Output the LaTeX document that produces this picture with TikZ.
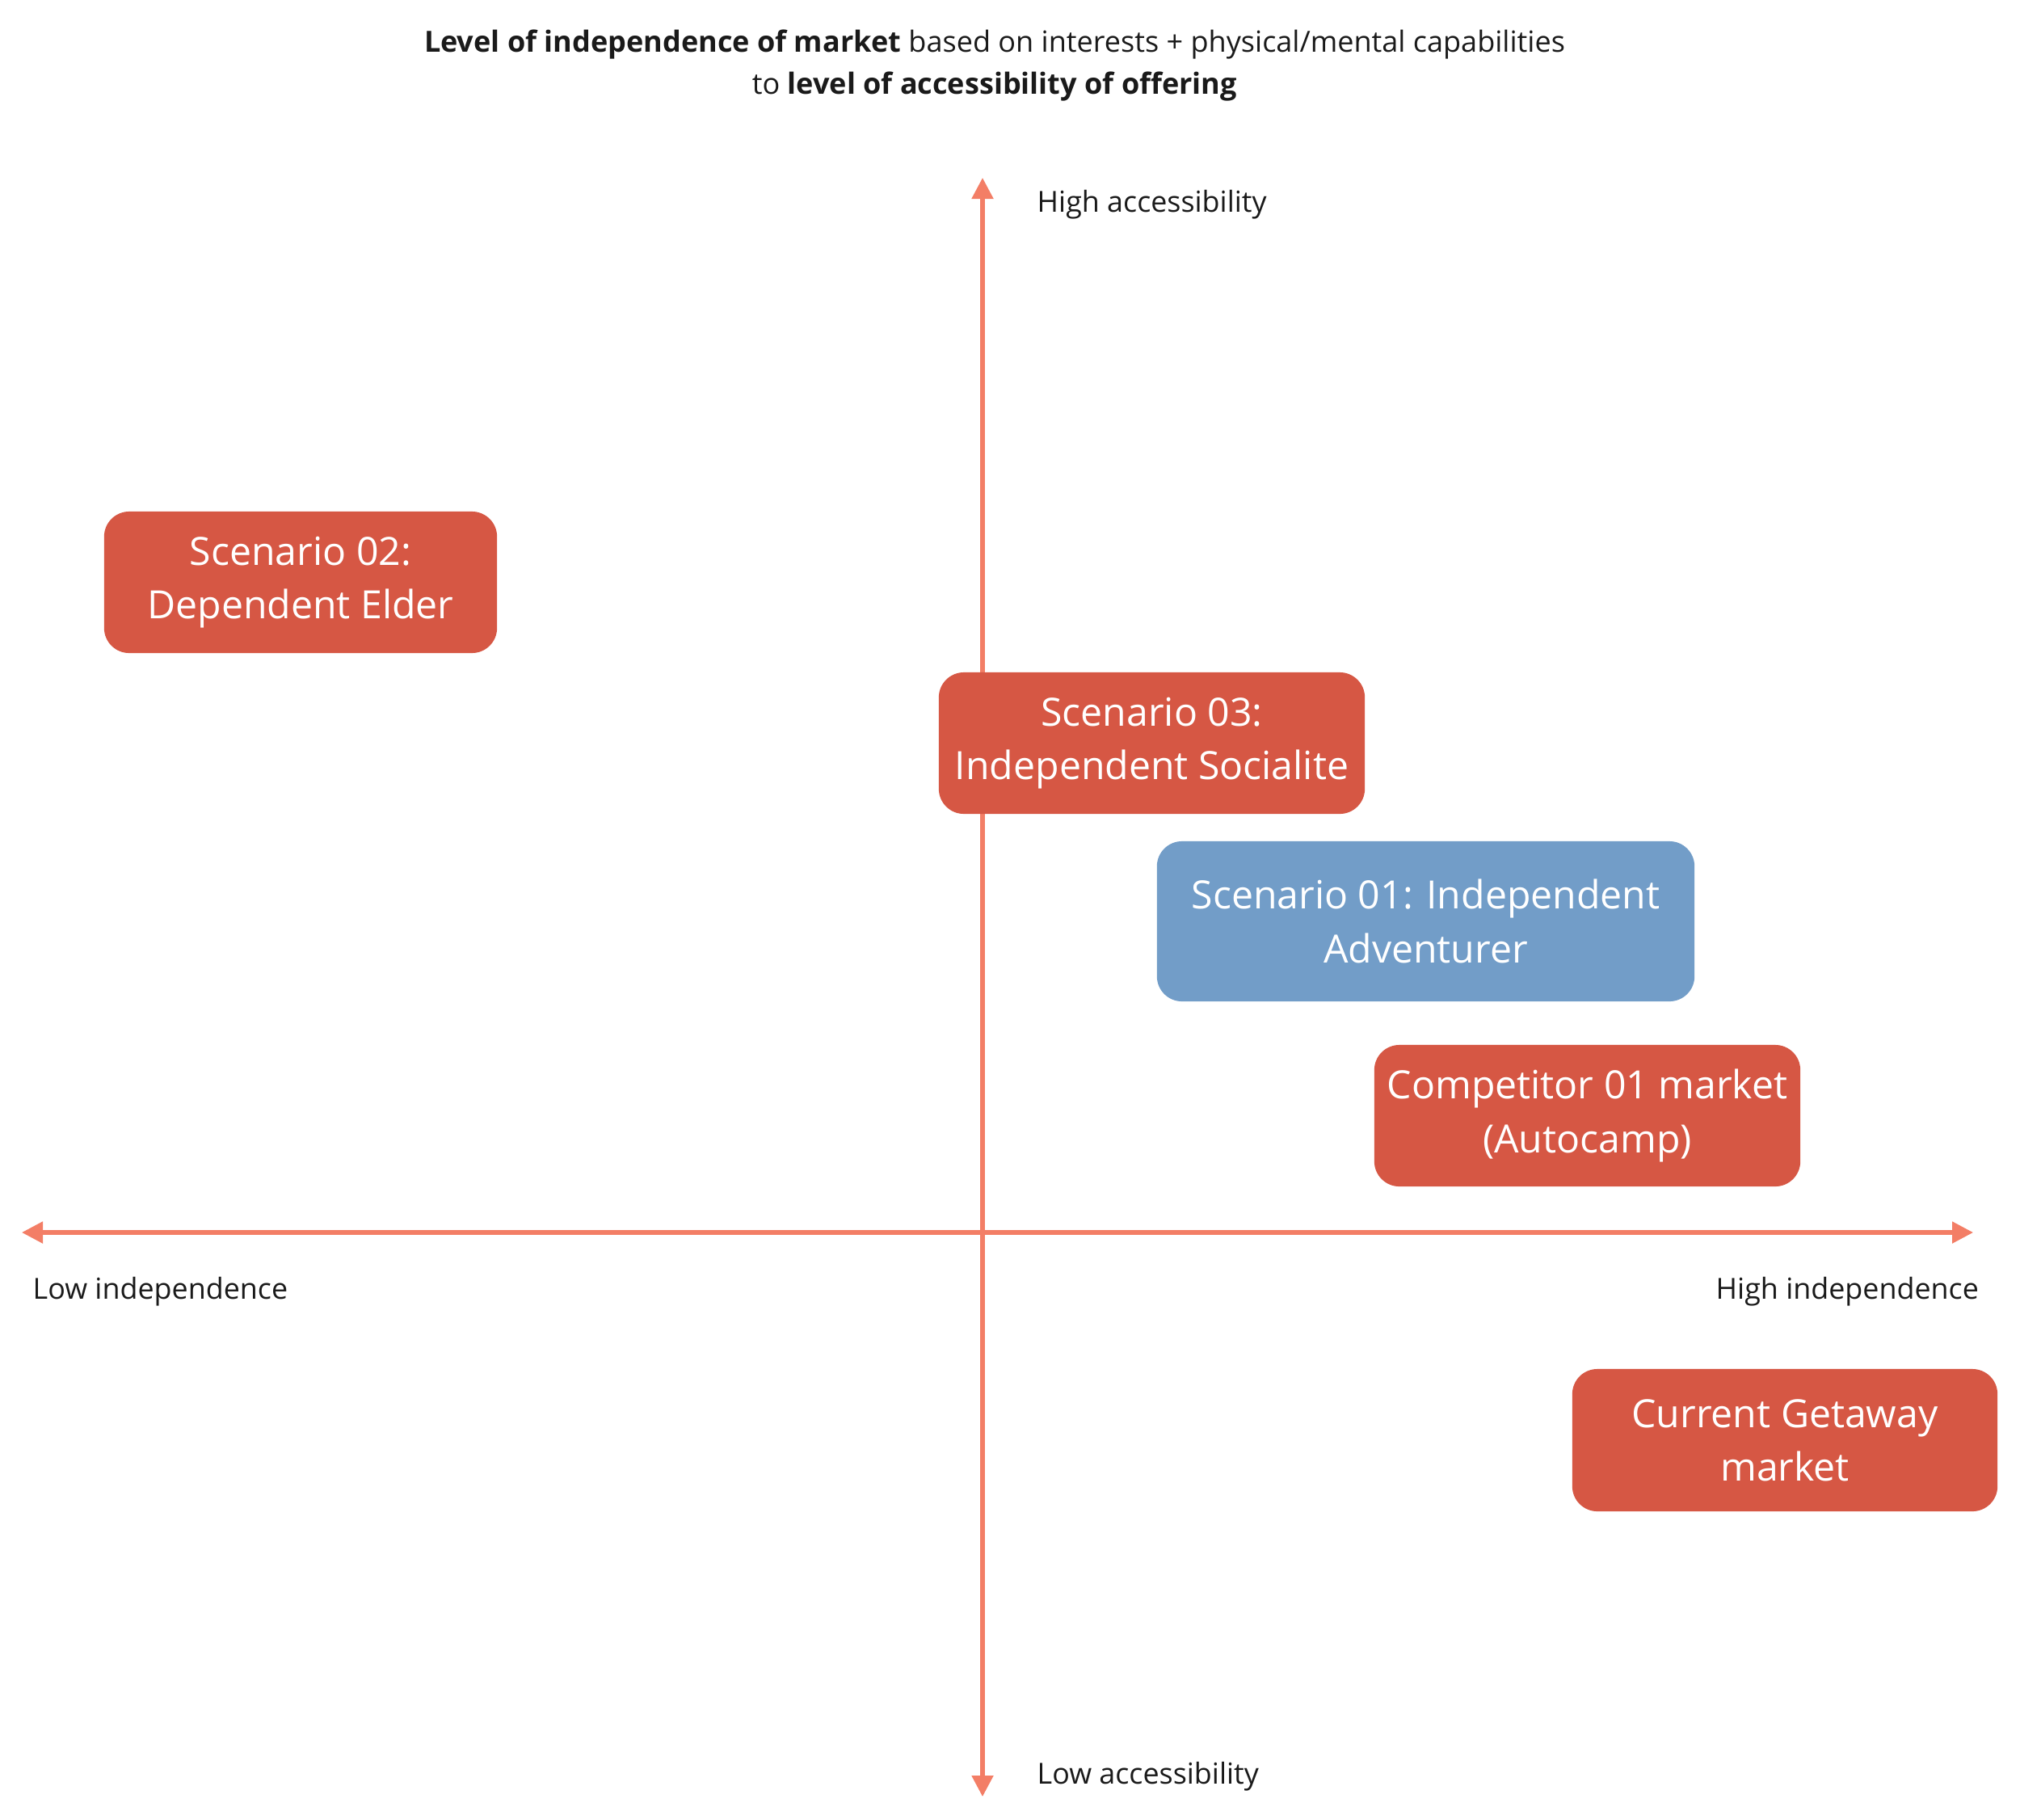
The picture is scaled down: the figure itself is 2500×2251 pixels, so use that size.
\documentclass[tikz,border=0pt]{standalone}
\usepackage{fontspec}
\setmainfont{Open Sans}
\usetikzlibrary{arrows.meta}
\definecolor{axiscol}{RGB}{243,126,102}
\definecolor{boxred}{RGB}{214,87,68}
\definecolor{boxblue}{RGB}{114,157,200}
\definecolor{textdark}{RGB}{26,26,26}
\tikzset{
  axis/.style={draw=axiscol, line width=1.45pt, {Triangle[length=7.4pt,width=7.4pt]}-{Triangle[length=7.4pt,width=7.4pt]}},
  axislabel/.style={anchor=base west, inner sep=0pt, text=textdark, font=\fontsize{10.2}{13}\selectfont},
  card/.style={rounded corners=0.31cm, inner sep=0pt, align=center, text=white, font=\fontsize{13.7}{18.9}\selectfont},
  redcard/.style={card, fill=boxred},
  bluecard/.style={card, fill=boxblue},
}
\begin{document}
\begin{tikzpicture}[x=0.01cm, y=-0.01cm]
\useasboundingbox (0,0) rectangle (2500,2251);
% title
\node[text=textdark, align=center, inner sep=0pt, font=\fontsize{10.25}{14.7}\selectfont] (title) at (1231,81)
  {\textbf{Level of independence of market} based on interests + physical/mental capabilities\\
   to \textbf{level of accessibility of offering}};
% axes
\coordinate (top) at (1216,220);
\coordinate (bottom) at (1216,2223);
\coordinate (left) at (27,1525);
\coordinate (right) at (2442,1525);
\draw[axis] (bottom) -- (top);
\draw[axis] (left) -- (right);
% axis labels
\node[axislabel] (highacc) at (1283,262) {High accessibility};
\node[axislabel] (lowacc) at (1283,2207) {Low accessibility};
\node[axislabel] (lowind) at (40,1607) {Low independence};
\node[axislabel] (highind) at (2123,1607) {High independence};
% cards
\node[redcard, minimum width=4.86cm, minimum height=1.75cm] (s02) at (372,720.5) {Scenario 02:\\Dependent Elder};
\node[redcard, minimum width=5.27cm, minimum height=1.75cm] (s03) at (1425.5,919.5) {Scenario 03:\\Independent Socialite};
\node[bluecard, minimum width=6.65cm, minimum height=1.98cm] (s01) at (1764.5,1140) {Scenario 01: Independent\\Adventurer};
\node[redcard, minimum width=5.27cm, minimum height=1.75cm] (comp) at (1964.5,1380.5) {Competitor 01 market\\(Autocamp)};
\node[redcard, minimum width=5.26cm, minimum height=1.76cm] (cur) at (2209,1782) {Current Getaway\\market};
\end{tikzpicture}
\end{document}
